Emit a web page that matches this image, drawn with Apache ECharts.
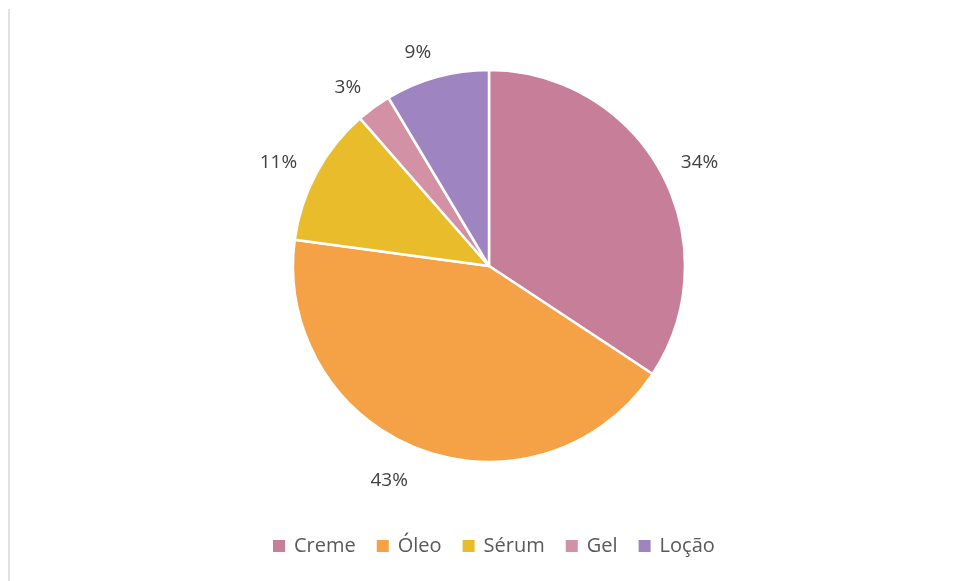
<!DOCTYPE html>
<html>
<head>
<meta charset="utf-8">
<script src="https://cdn.jsdelivr.net/npm/echarts@6/dist/echarts.min.js"></script>
<style>html,body{margin:0;padding:0;background:#fff;}#c{width:957px;height:581px;}</style>
</head>
<body>
<div id="c"></div>
<script>
var categories = ['Creme', 'Óleo', 'Sérum', 'Gel', 'Loção'];
var values = [12, 15, 4, 1, 3];
var colors = ['#C77F99', '#F4A245', '#E8BC2B', '#D291A5', '#9E84C0'];

var chart = echarts.init(document.getElementById('c'));
var FONT = '"Open Sans", "Liberation Sans", sans-serif';
var labelNudge = [[3, 6], [-14, -1], [-3, 6], [-1, 8], [-5, 8]];
chart.setOption({
  animation: false,
  backgroundColor: '#ffffff',
  color: colors,
  graphic: [{
    type: 'line',
    shape: {x1: 9, y1: 9, x2: 9, y2: 581},
    style: {stroke: '#d9d9d9', lineWidth: 1.5}
  }],
  legend: {
    bottom: 20,
    left: 266,
    itemWidth: 14,
    itemHeight: 14,
    itemGap: 19,
    icon: 'rect',
    textStyle: {color: '#595959', fontSize: 20, fontFamily: FONT, padding: [0, 0, 0, 3]},
    data: categories
  },
  series: [{
    type: 'pie',
    center: [489, 266],
    radius: [0, 196],
    startAngle: 90,
    clockwise: true,
    itemStyle: {borderColor: '#ffffff', borderWidth: 2.5},
    label: {
      show: true,
      position: 'outside',
      color: '#404040',
      fontSize: 19,
      fontFamily: FONT,
      formatter: function (p) { return Math.round(p.percent) + '%'; }
    },
    labelLine: {show: false, length: 34, length2: 0},
    labelLayout: function (p) {
      var n = labelNudge[p.dataIndex];
      return {align: 'center', verticalAlign: 'middle', dx: n[0], dy: n[1]};
    },
    emphasis: {disabled: true},
    data: categories.map(function (c, i) { return {name: c, value: values[i]}; })
  }]
});
</script>
</body>
</html>
